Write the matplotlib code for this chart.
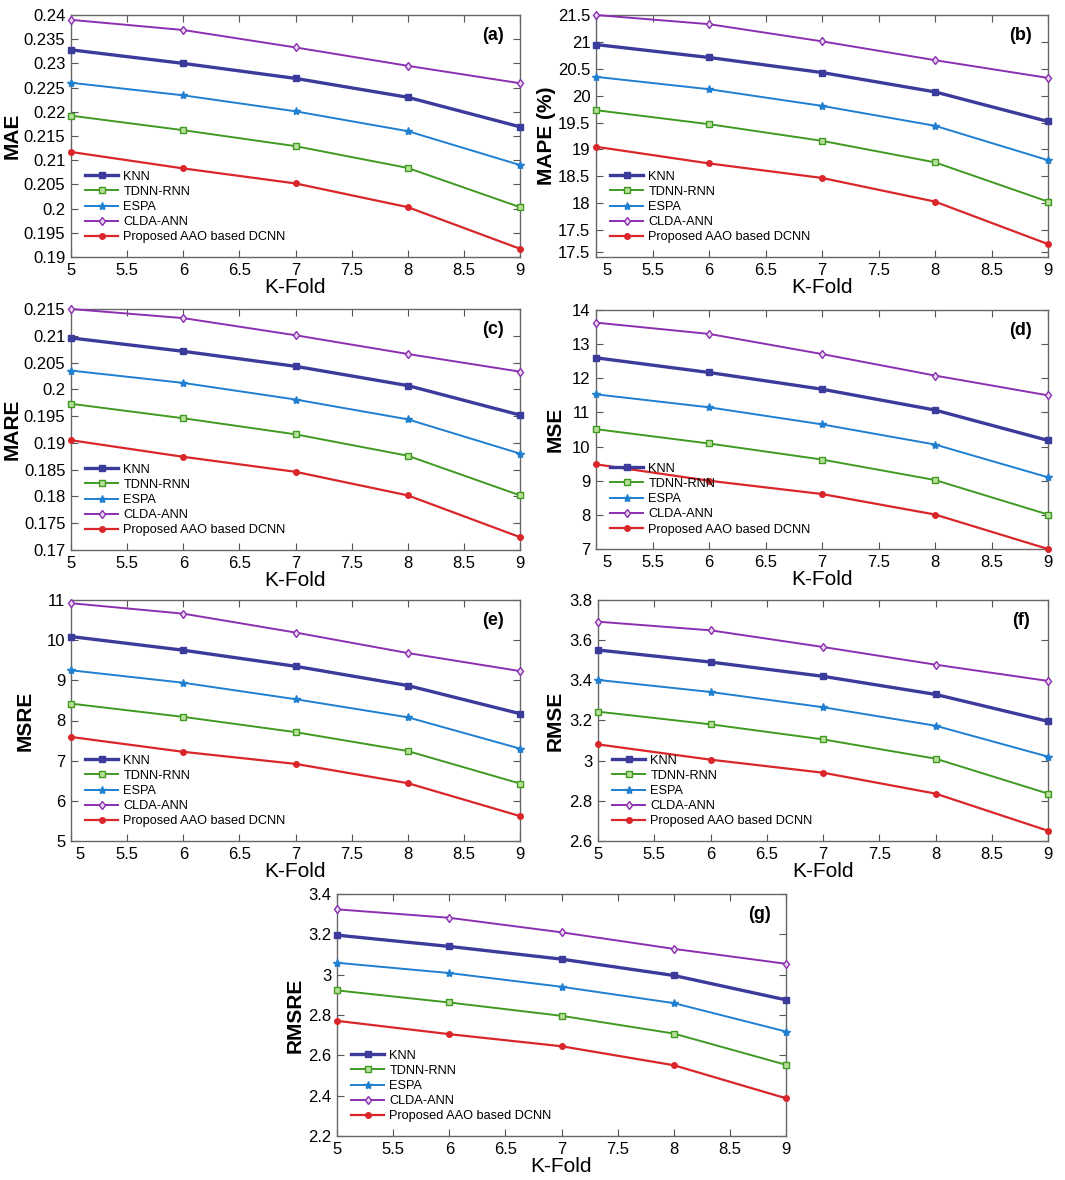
import numpy as np
import matplotlib.pyplot as plt
from matplotlib.transforms import ScaledTranslation

plt.rcParams['font.family'] = ['Liberation Sans', 'DejaVu Sans']

kfold = [5, 6, 7, 8, 9]
methods = ['KNN', 'TDNN-RNN', 'ESPA', 'CLDA-ANN', 'Proposed AAO based DCNN']

# values, order: KNN, TDNN-RNN, ESPA, CLDA-ANN, proposed
mae = [[0.2328, 0.2300, 0.2269, 0.2230, 0.2169],
       [0.2192, 0.2162, 0.2129, 0.2084, 0.2003],
       [0.2260, 0.2234, 0.2201, 0.2160, 0.2090],
       [0.2390, 0.2369, 0.2333, 0.2295, 0.2259],
       [0.2117, 0.2083, 0.2052, 0.2003, 0.1917]]
mape = [[20.95, 20.71, 20.43, 20.07, 19.52],
        [19.73, 19.47, 19.16, 18.76, 18.03],
        [20.35, 20.12, 19.81, 19.44, 18.80],
        [21.50, 21.33, 21.01, 20.66, 20.33],
        [19.05, 18.74, 18.47, 18.03, 17.24]]
mare = [[0.2096, 0.2071, 0.2043, 0.2007, 0.1952],
        [0.1973, 0.1946, 0.1916, 0.1876, 0.1802],
        [0.2035, 0.2012, 0.1981, 0.1944, 0.1880],
        [0.2150, 0.2133, 0.2101, 0.2066, 0.2033],
        [0.1905, 0.1874, 0.1846, 0.1802, 0.1724]]
mse = [[12.60, 12.17, 11.68, 11.07, 10.18],
       [10.51, 10.09, 9.62, 9.02, 8.01],
       [11.53, 11.15, 10.65, 10.06, 9.10],
       [13.63, 13.30, 12.71, 12.08, 11.50],
       [9.48, 9.00, 8.61, 8.01, 7.00]]
msre = [[10.09, 9.75, 9.35, 8.87, 8.17],
        [8.42, 8.09, 7.71, 7.24, 6.43],
        [9.25, 8.94, 8.53, 8.08, 7.30],
        [10.92, 10.66, 10.19, 9.68, 9.23],
        [7.59, 7.22, 6.92, 6.44, 5.62]]
rmse = [[3.551, 3.491, 3.420, 3.330, 3.196],
        [3.244, 3.181, 3.106, 3.010, 2.836],
        [3.402, 3.342, 3.266, 3.174, 3.020],
        [3.692, 3.649, 3.566, 3.478, 3.397],
        [3.081, 3.005, 2.940, 2.836, 2.651]]
rmsre = [[3.196, 3.140, 3.077, 2.996, 2.875],
         [2.922, 2.862, 2.796, 2.708, 2.553],
         [3.059, 3.008, 2.940, 2.859, 2.718],
         [3.324, 3.282, 3.210, 3.128, 3.054],
         [2.771, 2.705, 2.645, 2.551, 2.387]]

colors = ['#3b3b9c', '#3f9a22', '#1f7fd0', '#8b2fb0', '#d9262a']
markers = ['s', 's', '*', 'd', 'o']
faces = ['#3b3b9c', '#b8e09a', '#1f7fd0', '#e8d8f0', '#d9262a']
widths = [2.4, 1.4, 1.4, 1.4, 1.6]
msizes = [5, 4, 6, 4.5, 4]

W, H = 1065, 1180
fig = plt.figure(figsize=(W / 100, H / 100), dpi=100)

def box(l, t, r, b):
    return [l / W, 1 - b / H, (r - l) / W, (b - t) / H]

# data, ylabel, tag, axes box, ylim, yticks, yticklabels, ylabel x offset (px), shift of "5" (px)
panels = [
    (mae, 'MAE', '(a)', (71, 15, 520, 257), (0.19, 0.24),
     np.arange(0.19, 0.2401, 0.005), None, -59, 0),
    (mape, 'MAPE (%)', '(b)', (596, 15, 1048, 257), (17.0, 21.5),
     [17.1, 17.5, 18, 18.5, 19, 19.5, 20, 20.5, 21, 21.5],
     ['17.5', '17.5', '18', '18.5', '19', '19.5', '20', '20.5', '21', '21.5'], -50, 11),
    (mare, 'MARE', '(c)', (71, 309, 520, 550), (0.17, 0.215),
     np.arange(0.17, 0.2151, 0.005), None, -59, 0),
    (mse, 'MSE', '(d)', (596, 310, 1048, 549), (7, 14),
     np.arange(7, 14.01, 1), None, -41, 11),
    (msre, 'MSRE', '(e)', (71, 600, 520, 841), (5, 11),
     np.arange(5, 11.01, 1), None, -46, 9),
    (rmse, 'RMSE', '(f)', (598, 600, 1048, 841), (2.6, 3.8),
     np.arange(2.6, 3.801, 0.2), None, -43, 0),
    (rmsre, 'RMSRE', '(g)', (337, 894, 786, 1136), (2.2, 3.4),
     np.arange(2.2, 3.401, 0.2), None, -42, 0),
]

for data, ylab, tag, px, ylim, yt, ytl, yl_off, shift5 in panels:
    ax = fig.add_axes(box(*px))
    for i in range(5):
        ax.plot(kfold, data[i], color=colors[i], lw=widths[i], marker=markers[i],
                ms=msizes[i], mfc=faces[i], mec=colors[i], mew=1.0,
                label=methods[i], clip_on=False, zorder=3)
    ax.set_xlim(5, 9)
    ax.set_ylim(*ylim)
    ax.set_xticks(np.arange(5, 9.01, 0.5))
    ax.set_xticklabels(['5', '5.5', '6', '6.5', '7', '7.5', '8', '8.5', '9'])
    ax.set_yticks(yt)
    if ytl is None:
        ytl = ['%g' % round(v, 4) for v in yt]
    ax.set_yticklabels(ytl)
    ax.tick_params(direction='in', top=True, right=True, length=5, width=0.8,
                   labelsize=12, pad=4, color='#555555')
    if shift5:
        lab = ax.get_xticklabels()[0]
        lab.set_transform(lab.get_transform() +
                          ScaledTranslation(shift5 / 100, 0, fig.dpi_scale_trans))
    for s in ax.spines.values():
        s.set_color('#666666')
        s.set_linewidth(1.0)
    ax.set_xlabel('K-Fold', fontsize=15, labelpad=0)
    ax.set_ylabel(ylab, fontsize=15, fontweight='bold', va='center')
    ax.yaxis.set_label_coords(yl_off / (px[2] - px[0]), 0.5)
    ax.text(0.94, 0.915, tag, transform=ax.transAxes, ha='center', va='center',
            fontsize=13, fontweight='bold')
    ax.legend(loc='lower left', frameon=False, fontsize=9.2, handlelength=2.6,
              handletextpad=0.4, labelspacing=0.25, borderaxespad=0.0,
              bbox_to_anchor=(0.02, 0.035))

fig.savefig('out.png', dpi=100)
